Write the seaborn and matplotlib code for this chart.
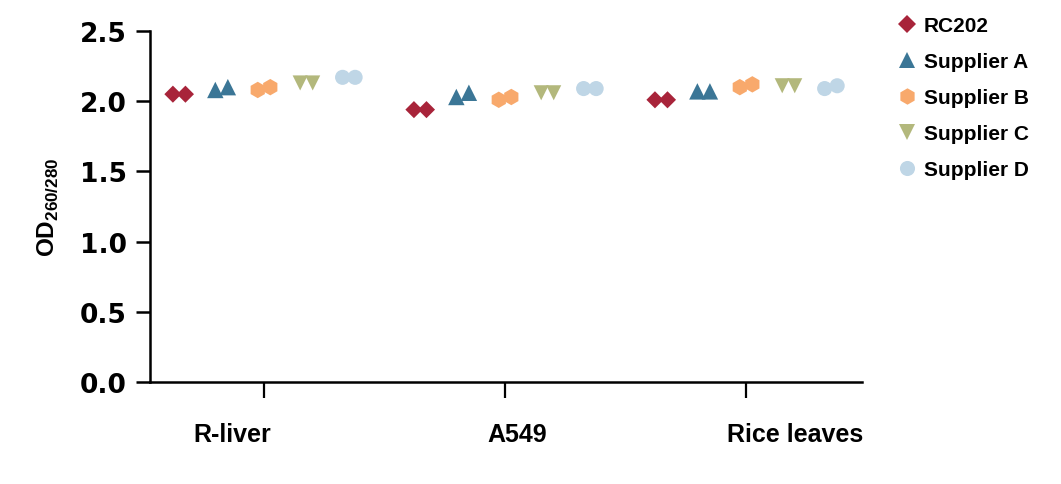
import matplotlib
matplotlib.use('Agg')
import matplotlib.pyplot as plt
import matplotlib.transforms as mtransforms
import seaborn as sns
import pandas as pd

# campioni e kit confrontati
categories = ['R-liver', 'A549', 'Rice leaves']
series = ['RC202', 'Supplier A', 'Supplier B', 'Supplier C', 'Supplier D']

# OD260/280, due repliche per campione (R-liver x2, A549 x2, Rice leaves x2)
rc202 = [2.05, 2.05, 1.94, 1.94, 2.01, 2.01]
supplier_a = [2.08, 2.10, 2.03, 2.06, 2.07, 2.07]
supplier_b = [2.08, 2.10, 2.01, 2.03, 2.10, 2.12]
supplier_c = [2.13, 2.13, 2.06, 2.06, 2.11, 2.11]
supplier_d = [2.17, 2.17, 2.09, 2.09, 2.09, 2.11]

y_ticks = [0.0, 0.5, 1.0, 1.5, 2.0, 2.5]

values = {
    'RC202': rc202,
    'Supplier A': supplier_a,
    'Supplier B': supplier_b,
    'Supplier C': supplier_c,
    'Supplier D': supplier_d,
}

colors = {
    'RC202': '#a8243a',
    'Supplier A': '#3b7696',
    'Supplier B': '#f8a96c',
    'Supplier C': '#b3b87c',
    'Supplier D': '#bfd6e6',
}
markers = {
    'RC202': 'D',
    'Supplier A': '^',
    'Supplier B': 'h',
    'Supplier C': 'v',
    'Supplier D': 'o',
}
marker_sizes = {
    'RC202': 76,
    'Supplier A': 140,
    'Supplier B': 140,
    'Supplier C': 118,
    'Supplier D': 118,
}

# costruisce la tabella lunga con le posizioni affiancate
group_step = 0.176
rep_step = 0.052
rows = []
for si, name in enumerate(series):
    for ci, cat in enumerate(categories):
        for r in range(2):
            x = ci + (si - 2) * group_step + (r - 0.5) * rep_step
            rows.append({'x': x, 'OD': values[name][ci * 2 + r], 'Sample': name})
df = pd.DataFrame(rows)

sns.set_style('ticks')
plt.rcParams['text.color'] = 'black'
plt.rcParams['mathtext.fontset'] = 'custom'
plt.rcParams['mathtext.rm'] = 'Liberation Sans'
plt.rcParams['mathtext.bf'] = 'Liberation Sans:bold'

fig, ax = plt.subplots(figsize=(10.61, 4.85), dpi=100)
fig.subplots_adjust(left=150 / 1061, right=862 / 1061, bottom=1 - 383 / 485, top=1 - 32 / 485)

sns.scatterplot(data=df, x='x', y='OD', hue='Sample', style='Sample', size='Sample',
                palette=colors, markers=markers, sizes=marker_sizes,
                hue_order=series, style_order=series, size_order=series,
                linewidth=0, ax=ax)

ax.set_xlim(-0.473, 2.481)
ax.set_ylim(0, 2.5)
ax.set_yticks(y_ticks)
ax.set_yticklabels([f'{v:.1f}' for v in y_ticks], fontfamily='DejaVu Sans',
                   fontweight='bold', fontsize=19)
ax.set_xticks(range(len(categories)))
ax.set_xticklabels(categories, fontfamily='Liberation Sans', fontweight='bold', fontsize=18)
ax.set_xlabel('')
ax.set_ylabel(r'$\mathbf{OD}_{\mathbf{260/280}}$', fontsize=17.5, labelpad=14, color='black')

for side in ['top', 'right']:
    ax.spines[side].set_visible(False)
for side in ['left', 'bottom']:
    ax.spines[side].set_linewidth(1.8)
    ax.spines[side].set_color('black')

ax.tick_params(axis='y', length=10, width=1.8, pad=6.5, colors='black')
ax.tick_params(axis='x', length=11.5, width=1.6, pad=17, colors='black')

# le etichette dell'asse x non sono centrate sui tick nell'originale
shifts_px = [-32, 12, 49]
for lab, dx in zip(ax.get_xticklabels(), shifts_px):
    off = mtransforms.ScaledTranslation(dx / 100, 0, fig.dpi_scale_trans)
    lab.set_transform(lab.get_transform() + off)

old = ax.get_legend()
handles = old.legend_handles
labels = [t.get_text() for t in old.get_texts()]
old.remove()
leg = ax.legend(handles, labels, loc='upper left', bbox_to_anchor=(897 / 1061, 468 / 485),
                bbox_transform=fig.transFigure, frameon=False, handlelength=1.0,
                handletextpad=0.3, labelspacing=0.82, borderpad=0, borderaxespad=0,
                prop={'family': 'Liberation Sans', 'weight': 'bold', 'size': 15})
for t in leg.get_texts():
    t.set_color('black')

fig.savefig('out.png', dpi=100)
